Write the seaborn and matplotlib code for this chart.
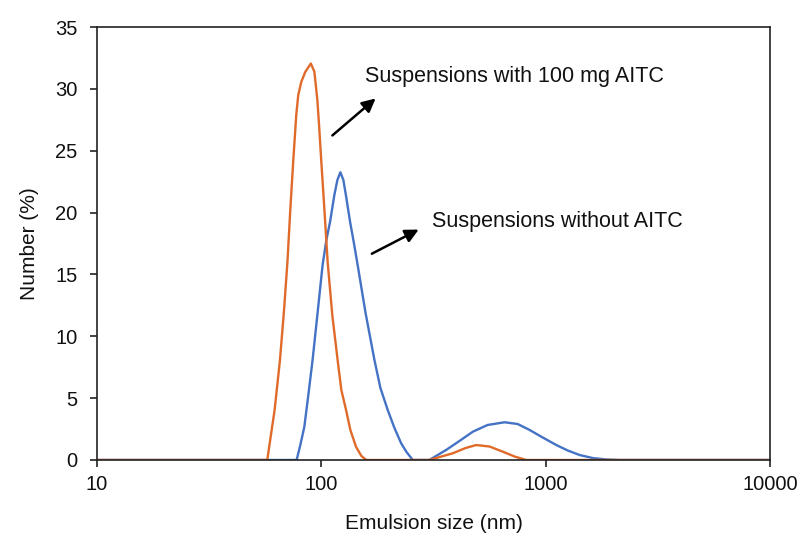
import matplotlib
matplotlib.use("Agg")
import matplotlib.pyplot as plt
import seaborn as sns
import pandas as pd

# Suspensions without AITC (blue)
size_without = [10, 50, 77.6, 80.6, 84.0, 87.5, 91.4, 96.0, 101.3, 105.3, 109.4, 114.3, 117.9,
                121.6, 125.4, 129.3, 134.3, 139.7, 145.2, 157.2, 172.5, 183.4, 197.7, 211.8,
                226.9, 239.7, 255.6, 303, 360, 413, 474, 551, 656, 750, 848, 970, 1116, 1254,
                1419, 1621, 1866, 2138, 10000]
num_without = [0, 0, 0, 1.21, 2.69, 5.25, 8.08, 11.72, 15.76, 17.78, 19.26, 21.42, 22.63,
               23.26, 22.63, 21.18, 19.26, 17.54, 15.76, 11.96, 8.08, 5.82, 4.04, 2.59,
               1.35, 0.65, 0, 0, 0.81, 1.54, 2.29, 2.83, 3.05, 2.91, 2.43, 1.82, 1.21, 0.77,
               0.40, 0.16, 0.04, 0, 0]

# Suspensions with 100 mg AITC (orange)
size_with = [10, 50, 57.4, 61.9, 65.4, 68.2, 70.7, 72.7, 75.0, 77.3, 78.9, 81.4, 84.8, 89.8,
             93.1, 96.0, 98.0, 100, 103.1, 106.7, 111.9, 118.2, 122.8, 128.9, 134.7, 142.9,
             150.9, 158.8, 303, 385, 440, 490, 562, 645, 727, 820, 10000]
num_with = [0, 0, 0, 4.04, 8.08, 12.13, 16.17, 20.21, 24.25, 27.89, 29.5, 30.56, 31.37, 32.05,
            31.39, 29.1, 26.68, 24.09, 20.37, 16.0, 11.72, 8.08, 5.66, 4.04, 2.43, 1.05,
            0.32, 0, 0, 0.54, 0.97, 1.21, 1.09, 0.67, 0.28, 0, 0]

series_names = ["Suspensions without AITC", "Suspensions with 100 mg AITC"]
x_ticks = [10, 100, 1000, 10000]
y_ticks = [0, 5, 10, 15, 20, 25, 30, 35]

df = pd.concat([
    pd.DataFrame({"size": size_without, "num": num_without, "series": series_names[0]}),
    pd.DataFrame({"size": size_with, "num": num_with, "series": series_names[1]}),
])

sns.set_theme(style="ticks")
plt.rcParams["font.family"] = ["Liberation Sans", "DejaVu Sans"]

fig = plt.figure(figsize=(8.02, 5.36), dpi=100)
ax = fig.add_axes([0.121, 0.1418, 0.839, 0.8078])

sns.lineplot(data=df, x="size", y="num", hue="series", hue_order=series_names,
             palette=["#4472C4", "#E06A2A"], linewidth=1.7, sort=False,
             legend=False, ax=ax, estimator=None)
for ln in ax.lines:
    ln.set_solid_joinstyle("round")

ax.set_xscale("log")
ax.set_xlim(10, 10000)
ax.set_ylim(0, 35)
ax.set_xticks(x_ticks)
ax.set_xticklabels([str(t) for t in x_ticks])
ax.xaxis.set_minor_locator(matplotlib.ticker.NullLocator())
ax.set_yticks(y_ticks)
ax.tick_params(axis="both", labelsize=14.5, length=5, width=1.2, color="#222222",
               labelcolor="#111111", direction="out")
ax.tick_params(axis="x", pad=6)
ax.tick_params(axis="y", pad=9)
for s in ax.spines.values():
    s.set_visible(True)
    s.set_color("#222222")
    s.set_linewidth(1.2)

ax.set_xlabel("Emulsion size (nm)", fontsize=15, color="#111111", labelpad=14)
ax.set_ylabel("Number (%)", fontsize=15, color="#111111", labelpad=12)

ax.annotate("", xy=(178.4, 29.37), xytext=(109.6, 26.09),
            arrowprops=dict(arrowstyle="-|>", color="black", lw=1.8, mutation_scale=20))
ax.text(157, 31.04, series_names[1], fontsize=15.5, va="center", ha="left", color="#111111")

ax.annotate("", xy=(278.6, 18.73), xytext=(163.7, 16.57),
            arrowprops=dict(arrowstyle="-|>", color="black", lw=1.8, mutation_scale=20))
ax.text(313, 19.24, series_names[0], fontsize=15.5, va="center", ha="left", color="#111111")

fig.savefig("out.png", dpi=100)
